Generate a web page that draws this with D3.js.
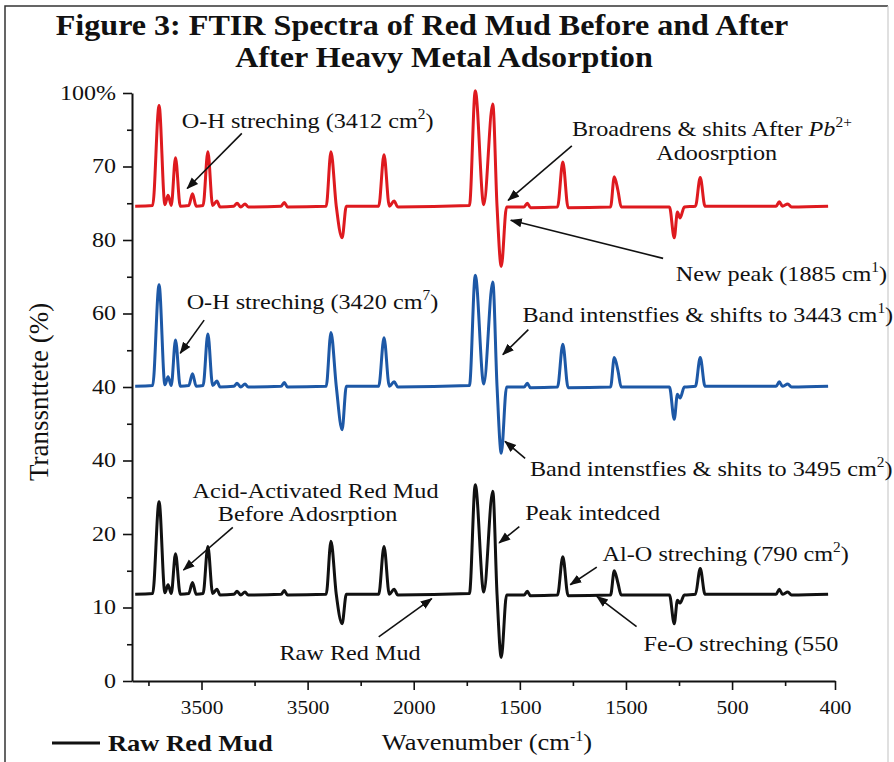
<!DOCTYPE html>
<html>
<head>
<meta charset="utf-8">
<script src="https://cdn.jsdelivr.net/npm/d3@7"></script>
<style>
  body { margin: 0; background: #fff; }
  svg { display: block; }
  text { font-family: "Liberation Serif", "Times New Roman", serif; fill: #111; }
</style>
</head>
<body>
<div id="chart"></div>
<script>
var W = 894, H = 762;
var margin = {top: 93, right: 59, bottom: 81, left: 132},
    width = W - margin.left - margin.right,
    height = H - margin.top - margin.bottom;

// x axis runs in tick steps (one step = one minor tick), labels as printed
var xTickPos = [0, 1, 2, 3, 4, 5, 6, 7, 8, 9, 10, 11, 12, 12.94];
var xTickLabels = ["", "3500", "", "3500", "", "2000", "", "1500", "", "1500", "", "500", "", "400"];
var yTickPos = [0, 10, 20, 30, 40, 50, 60, 70, 80];
var yTickLabels = ["0", "10", "20", "40", "40", "60", "80", "70", "100%"];
var yMinorPos = [5, 15, 25, 35, 45, 55, 65, 75];

// spectra (shared x positions)
var wavePos = [-0.25, 0.08, 0.20, 0.31, 0.37, 0.43, 0.51, 0.60, 0.76, 0.83,
               0.90, 1.03, 1.12, 1.21, 1.29, 1.35, 1.61, 1.67, 1.74, 1.82,
               1.88, 2.50, 2.56, 2.62, 3.35, 3.44, 3.54, 3.65, 3.73, 4.34,
               4.44, 4.54, 4.63, 4.70, 6.05, 6.16, 6.32, 6.49, 6.57, 6.65,
               6.75, 7.08, 7.14, 7.20, 7.71, 7.81, 7.91, 8.71, 8.78, 8.85,
               8.91, 9.82, 9.91, 9.97, 10.02, 10.10, 10.31, 10.40, 10.49, 11.83,
               11.89, 11.95, 12.05, 12.12, 12.81];

var afterPb = [64.6, 64.7, 78.3, 64.8, 66.1, 64.7, 71.2, 64.6, 64.7, 66.3,
               64.6, 64.7, 72.0, 64.7, 65.3, 64.5, 64.6, 65.0, 64.5, 64.9,
               64.5, 64.6, 65.1, 64.5, 64.6, 72.0, 64.6, 60.3, 64.6, 64.6,
               71.6, 64.6, 65.3, 64.5, 64.7, 80.3, 64.8, 78.5, 64.6, 56.4,
               64.5, 64.5, 65.0, 64.4, 64.5, 70.6, 64.4, 64.5, 68.6, 66.7,
               64.5, 64.5, 60.3, 63.8, 63.0, 64.5, 64.6, 68.5, 64.6, 64.6,
               65.2, 64.6, 64.9, 64.5, 64.6];

var acidActivated = [40.1, 40.2, 53.9, 40.3, 41.4, 40.2, 46.4, 40.1, 40.2, 41.8,
                     40.1, 40.2, 47.2, 40.2, 40.8, 40.0, 40.1, 40.5, 40.0, 40.4,
                     40.0, 40.1, 40.6, 40.0, 40.1, 47.4, 40.1, 34.2, 40.1, 40.1,
                     46.7, 40.1, 40.7, 40.0, 40.2, 55.2, 40.4, 54.3, 40.1, 31.0,
                     40.0, 40.0, 40.5, 39.9, 40.0, 45.8, 39.9, 40.0, 44.0, 42.2,
                     40.0, 40.0, 35.6, 39.0, 38.5, 40.0, 40.1, 44.0, 40.1, 40.1,
                     40.7, 40.1, 40.4, 40.0, 40.1];

var rawMud = [11.8, 11.9, 24.4, 12.0, 13.1, 11.9, 17.3, 11.8, 11.9, 13.4,
              11.8, 11.9, 18.3, 11.9, 12.5, 11.7, 11.8, 12.2, 11.7, 12.1,
              11.7, 11.8, 12.3, 11.7, 11.8, 19.0, 11.8, 7.8, 11.8, 11.8,
              18.3, 11.8, 12.5, 11.7, 11.9, 26.7, 12.1, 25.8, 11.8, 3.2,
              11.7, 11.7, 12.2, 11.6, 11.7, 16.9, 11.6, 11.7, 15.0, 13.3,
              11.7, 11.7, 7.8, 11.0, 10.6, 11.7, 11.8, 15.3, 11.8, 11.8,
              12.5, 11.8, 12.1, 11.7, 11.8];

var seriesNames = ["After Pb2+ Adsorption", "Acid-Activated Red Mud", "Raw Red Mud"];
var seriesValues = [afterPb, acidActivated, rawMud];
var seriesColors = ["#de1a1f", "#1d58a6", "#111111"];

// callouts: text anchor and arrow ends in data units
var notes = [
  {lines: [{x: 0.63, y: 76.3, parts: [["O-H streching (3412 cm"], ["2", "sup"], [")"]]}], from: [1.76, 74.5], to: [0.73, 67.0]},
  {lines: [{x: 10.62, y: 75.2, anchor: "middle", parts: [["Broadrens & shits After "], ["Pb", "it"], ["2+", "sup"]]},
           {x: 10.71, y: 72.0, anchor: "middle", parts: [["Adoosrption"]]}], from: [7.98, 72.8], to: [6.78, 65.4]},
  {lines: [{x: 9.94, y: 55.5, parts: [["New peak (1885 cm"], ["1", "sup"], [")"]]}], from: [9.70, 57.5], to: [6.83, 62.7]},
  {lines: [{x: 0.72, y: 51.6, parts: [["O-H streching (3420 cm"], ["7", "sup"], [")"]]}], from: [1.05, 49.1], to: [0.60, 44.6]},
  {lines: [{x: 7.05, y: 49.9, parts: [["Band intenstfies & shifts to 3443 cm"], ["1", "sup"], [")"]]}], from: [7.16, 47.8], to: [6.68, 44.4]},
  {lines: [{x: 7.19, y: 29.0, parts: [["Band intenstfies & shits to 3495 cm"], ["2", "sup"], [")"]]}], from: [7.10, 30.3], to: [6.72, 32.6]},
  {lines: [{x: 3.15, y: 25.9, anchor: "middle", parts: [["Acid-Activated Red Mud"]]},
           {x: 3.00, y: 22.8, anchor: "middle", parts: [["Before Adosrption"]]}], from: [1.59, 20.9], to: [0.66, 15.1]},
  {lines: [{x: 7.10, y: 22.9, parts: [["Peak intedced"]]}], from: [6.99, 21.0], to: [6.61, 18.8]},
  {lines: [{x: 8.56, y: 17.4, parts: [["Al-O streching (790 cm"], ["2", "sup"], [")"]]}], from: [8.45, 15.5], to: [7.95, 13.1]},
  {lines: [{x: 9.33, y: 5.1, parts: [["Fe-O streching (550"]]}], from: [9.20, 7.4], to: [8.45, 11.5]},
  {lines: [{x: 3.80, y: 3.85, anchor: "middle", parts: [["Raw Red Mud"]]}], from: [4.34, 6.0], to: [5.34, 11.2]}
];

var svg = d3.select("#chart").append("svg")
    .attr("width", W)
    .attr("height", H);

// widen text horizontally, the source lettering is stretched
function widen(sel, k) {
    sel.each(function() {
        var w = this.getComputedTextLength();
        d3.select(this).attr("textLength", w * k).attr("lengthAdjust", "spacingAndGlyphs");
    });
}

// writes parts like [["text"], ["2", "sup"], ["Pb", "it"]] into a text node
function richText(textSel, parts, fontSize) {
    var shift = Math.round(fontSize * 0.4);
    var raised = false;
    parts.forEach(function(p) {
        var t = textSel.append("tspan").text(p[0]);
        if (p[1] === "sup") {
            t.attr("font-size", Math.round(fontSize * 0.62)).attr("dy", -shift);
            raised = true;
        } else {
            if (raised) { t.attr("dy", shift); raised = false; }
            if (p[1] === "it") t.attr("font-style", "italic");
        }
    });
}

// frame
svg.append("path")
    .attr("d", "M5,762V6H888")
    .attr("fill", "none")
    .attr("stroke", "#333")
    .attr("stroke-width", 1.5);
svg.append("path")
    .attr("d", "M888,6V762")
    .attr("fill", "none")
    .attr("stroke", "#ccc")
    .attr("stroke-width", 1.2);

// title
var title = svg.append("g").attr("font-weight", "bold").attr("font-size", 30).attr("text-anchor", "middle");
title.append("text").attr("x", 422).attr("y", 35).text("Figure 3: FTIR Spectra of Red Mud Before and After");
title.append("text").attr("x", 444).attr("y", 67).text("After Heavy Metal Adsorption");
widen(title.selectAll("text"), 1.07);

var g = svg.append("g")
    .attr("transform", "translate(" + margin.left + "," + margin.top + ")");

var x = d3.scaleLinear().domain([-0.31, 12.94]).range([0, width]);
var y = d3.scaleLinear().domain([0, 80]).range([height, 0]);

// y axis
var yAxis = g.append("g")
    .call(d3.axisLeft(y).tickValues(yTickPos).tickFormat(function(d, i) { return yTickLabels[i]; })
        .tickSize(9).tickPadding(7).tickSizeOuter(0));
g.append("g")
    .call(d3.axisLeft(y).tickValues(yMinorPos).tickFormat("").tickSize(5).tickSizeOuter(0))
    .select(".domain").remove();

// x axis
var xAxis = g.append("g")
    .attr("transform", "translate(0," + height + ")")
    .call(d3.axisBottom(x).tickValues(xTickPos).tickFormat(function(d, i) { return xTickLabels[i]; })
        .tickSize(9).tickPadding(11).tickSizeOuter(0));
xAxis.selectAll(".tick line").attr("y2", function(d, i) { return xTickLabels[i] ? 9 : 5; });

g.selectAll(".domain").attr("stroke", "#111").attr("stroke-width", 2);
g.selectAll(".tick line").attr("stroke", "#111").attr("stroke-width", 1.6);
yAxis.selectAll(".tick text").attr("font-size", 20).attr("font-family", null).attr("fill", "#111");
xAxis.selectAll(".tick text").attr("font-size", 19).attr("font-family", null).attr("fill", "#111");
widen(yAxis.selectAll(".tick text"), 1.2);
widen(xAxis.selectAll(".tick text"), 1.12);

// spectra
var line = d3.line()
    .x(function(d) { return x(d[0]); })
    .y(function(d) { return y(d[1]); })
    .curve(d3.curveMonotoneX);

g.selectAll(".spectrum")
    .data(seriesValues)
    .enter().append("path")
    .attr("class", "spectrum")
    .attr("fill", "none")
    .attr("stroke", function(d, i) { return seriesColors[i]; })
    .attr("stroke-width", 3)
    .attr("stroke-linejoin", "round")
    .attr("d", function(vals) { return line(vals.map(function(v, i) { return [wavePos[i], v]; })); });

// arrow head
svg.append("defs").append("marker")
    .attr("id", "arrowHead")
    .attr("viewBox", "0 0 12 12")
    .attr("refX", 11)
    .attr("refY", 6)
    .attr("markerWidth", 12)
    .attr("markerHeight", 12)
    .attr("markerUnits", "userSpaceOnUse")
    .attr("orient", "auto")
    .append("path")
    .attr("d", "M0,1.5L12,6L0,10.5Z")
    .attr("fill", "#111");

// callouts
var noteFont = 22;
notes.forEach(function(n) {
    g.append("line")
        .attr("x1", x(n.from[0])).attr("y1", y(n.from[1]))
        .attr("x2", x(n.to[0])).attr("y2", y(n.to[1]))
        .attr("stroke", "#111")
        .attr("stroke-width", 1.6)
        .attr("marker-end", "url(#arrowHead)");
    n.lines.forEach(function(l) {
        var t = g.append("text")
            .attr("x", x(l.x))
            .attr("y", y(l.y))
            .attr("dy", "0.35em")
            .attr("font-size", noteFont)
            .attr("text-anchor", l.anchor || "start");
        richText(t, l.parts, noteFont);
        widen(t, 1.1);
    });
});

// axis titles
var yTitle = svg.append("text")
    .attr("transform", "translate(48,392) rotate(-90)")
    .attr("text-anchor", "middle")
    .attr("font-size", 27)
    .text("Transsnttete  (%)");

var xTitle = svg.append("text")
    .attr("x", 487)
    .attr("y", 750)
    .attr("text-anchor", "middle")
    .attr("font-size", 23);
richText(xTitle, [["Wavenumber (cm"], ["-1", "sup"], [")"]], 23);
widen(xTitle, 1.15);

// legend
svg.append("line")
    .attr("x1", 52).attr("x2", 100)
    .attr("y1", 743).attr("y2", 743)
    .attr("stroke", seriesColors[2])
    .attr("stroke-width", 3);
var legendText = svg.append("text")
    .attr("x", 108)
    .attr("y", 751)
    .attr("font-size", 23)
    .attr("font-weight", "bold")
    .text(seriesNames[2]);
widen(legendText, 1.15);
</script>
</body>
</html>
